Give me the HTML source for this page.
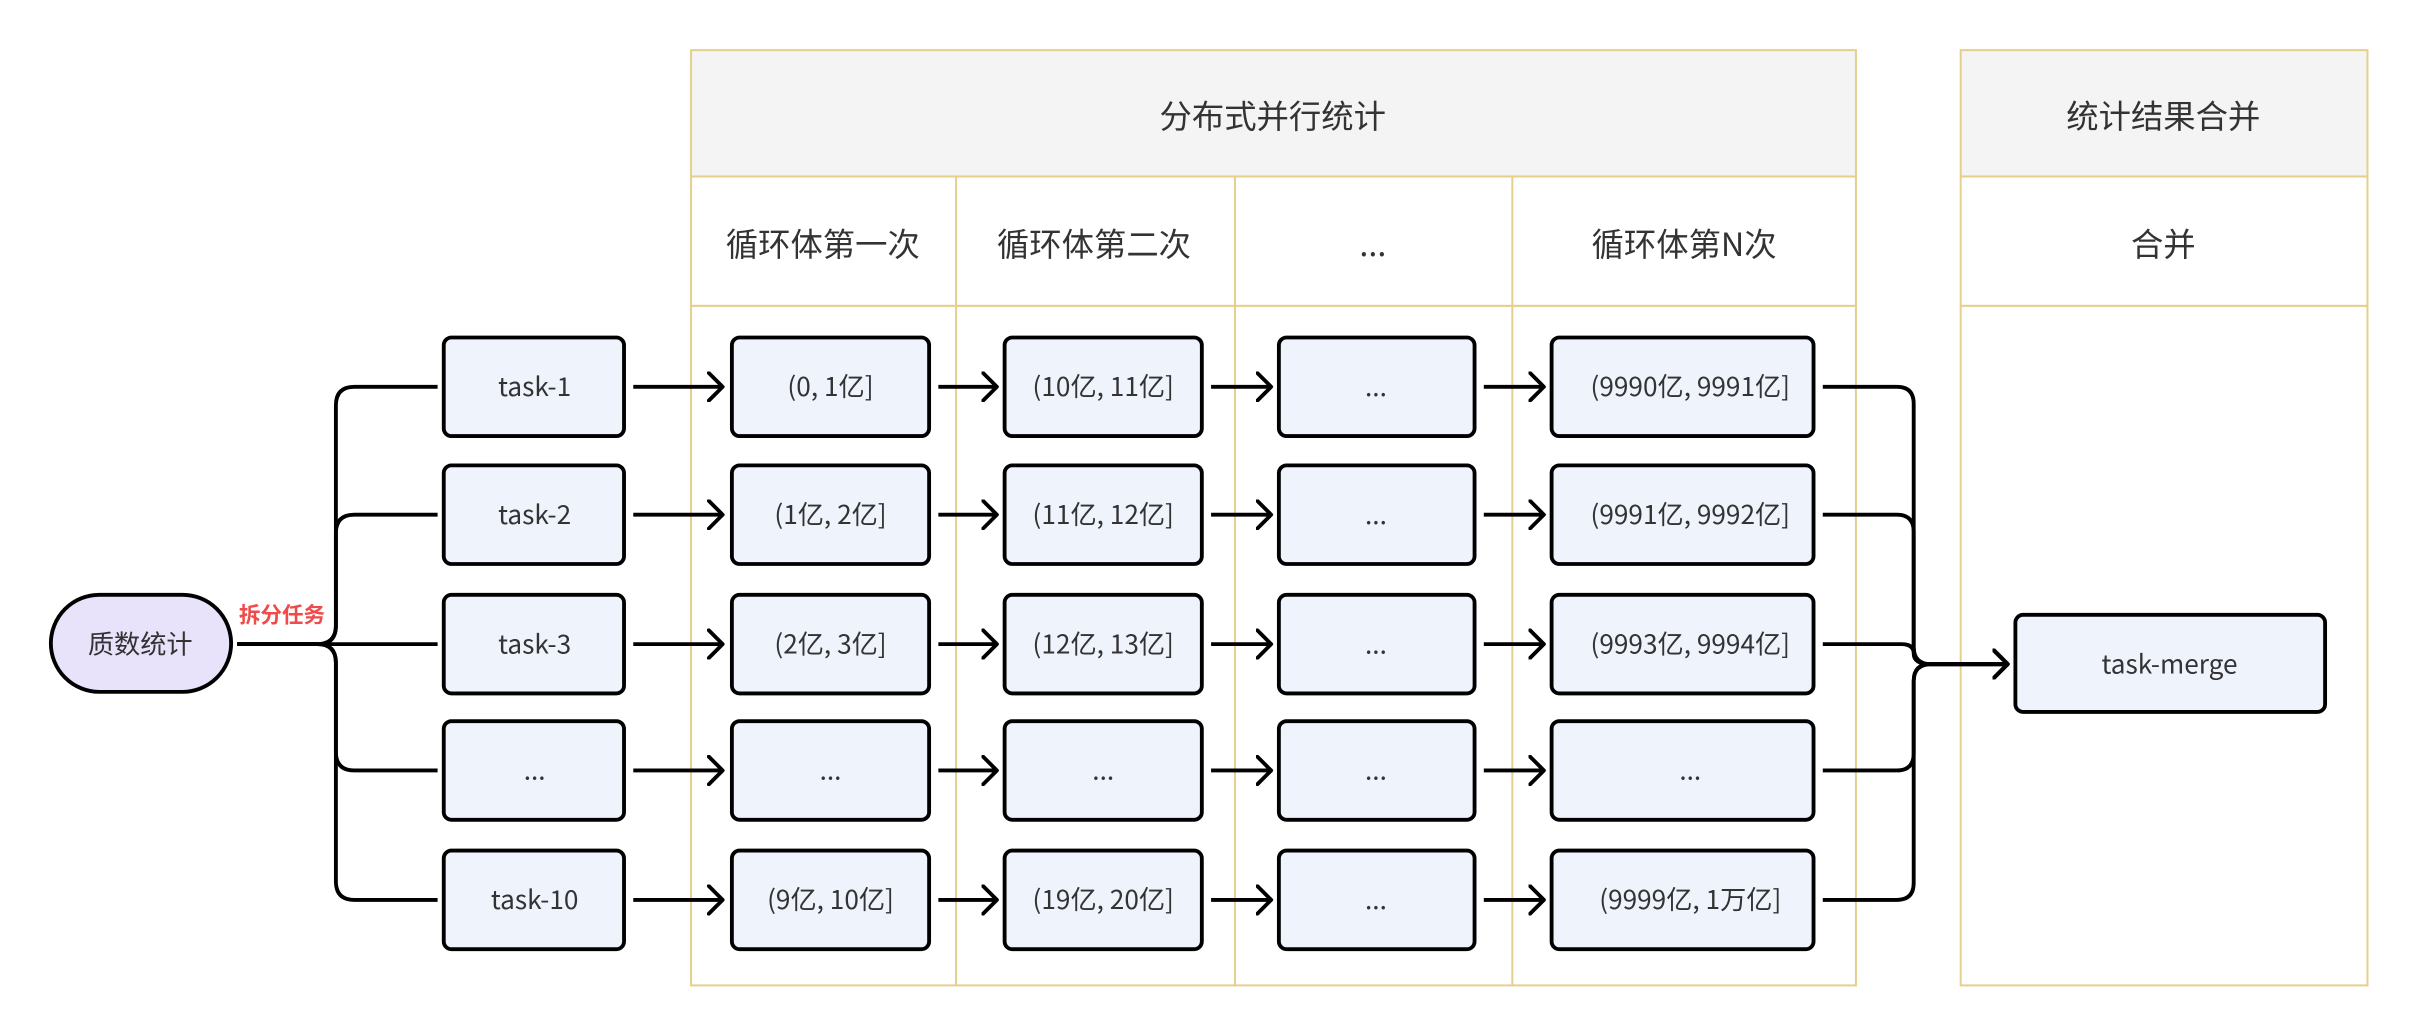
<!DOCTYPE html>
<html><head><meta charset="utf-8"><style>
html,body{margin:0;padding:0;background:#fff;}
svg{display:block;}
text{font-family:"Noto Sans CJK SC","Liberation Sans",sans-serif;fill:#333;}
</style></head><body>
<svg width="2416" height="1034" viewBox="0 0 1568 671" xmlns="http://www.w3.org/2000/svg">
<defs>
<marker id="ah" markerWidth="12" markerHeight="20" refX="10" refY="10" orient="auto" markerUnits="userSpaceOnUse">
<path d="M1,1 L10,10 L1,19" fill="none" stroke="#000" stroke-width="2.5" stroke-linecap="round" stroke-linejoin="round"/>
</marker>
</defs>
<g stroke="#e6cf8c" stroke-width="1.3">
<rect x="448.5" y="32.5" width="756" height="82" fill="#f4f4f4"/>
<rect x="448.5" y="114.5" width="756" height="84" fill="#fff"/>
<rect x="448.5" y="198.5" width="756" height="441" fill="#fff"/>
<line x1="620.5" y1="114.5" x2="620.5" y2="639.5"/>
<line x1="801.5" y1="114.5" x2="801.5" y2="639.5"/>
<line x1="981.5" y1="114.5" x2="981.5" y2="639.5"/>
<rect x="1272.5" y="32.5" width="264" height="82" fill="#f4f4f4"/>
<rect x="1272.5" y="114.5" width="264" height="84" fill="#fff"/>
<rect x="1272.5" y="198.5" width="264" height="441" fill="#fff"/>
</g>
<g font-size="21" text-anchor="middle">
<text x="826" y="83">分布式并行统计</text>
<text x="1404" y="83">统计结果合并</text>
<text x="534" y="166">循环体第一次</text>
<text x="710" y="166">循环体第二次</text>
<text x="891" y="166">...</text>
<text x="1093" y="166">循环体第N次</text>
<text x="1404" y="166">合并</text>
</g>
<rect x="33" y="386" width="117" height="63" rx="31.5" fill="#e9e2fb" stroke="#000" stroke-width="2.5"/>
<text x="91" y="424" font-size="17" text-anchor="middle">质数统计</text>
<text x="183" y="404" font-size="14" font-weight="bold" text-anchor="middle" style="fill:#f04a4a">拆分任务</text>
<g fill="none" stroke="#000" stroke-width="2.5">
<path d="M154,418 H206 Q218,418 218,406 V263 Q218,251 230,251 H284"/>
<path d="M154,418 H206 Q218,418 218,406 V346 Q218,334 230,334 H284"/>
<path d="M154,418 H284"/>
<path d="M154,418 H206 Q218,418 218,430 V488 Q218,500 230,500 H284"/>
<path d="M154,418 H206 Q218,418 218,430 V572 Q218,584 230,584 H284"/>
</g>
<g fill="#eef3fc" stroke="#000" stroke-width="2.5">
<rect x="288" y="219" width="117" height="64" rx="5"/><rect x="288" y="302" width="117" height="64" rx="5"/><rect x="288" y="386" width="117" height="64" rx="5"/><rect x="288" y="468" width="117" height="64" rx="5"/><rect x="288" y="552" width="117" height="64" rx="5"/>
<rect x="475" y="219" width="128" height="64" rx="5"/><rect x="475" y="302" width="128" height="64" rx="5"/><rect x="475" y="386" width="128" height="64" rx="5"/><rect x="475" y="468" width="128" height="64" rx="5"/><rect x="475" y="552" width="128" height="64" rx="5"/>
<rect x="652" y="219" width="128" height="64" rx="5"/><rect x="652" y="302" width="128" height="64" rx="5"/><rect x="652" y="386" width="128" height="64" rx="5"/><rect x="652" y="468" width="128" height="64" rx="5"/><rect x="652" y="552" width="128" height="64" rx="5"/>
<rect x="830" y="219" width="127" height="64" rx="5"/><rect x="830" y="302" width="127" height="64" rx="5"/><rect x="830" y="386" width="127" height="64" rx="5"/><rect x="830" y="468" width="127" height="64" rx="5"/><rect x="830" y="552" width="127" height="64" rx="5"/>
<rect x="1007" y="219" width="170" height="64" rx="5"/><rect x="1007" y="302" width="170" height="64" rx="5"/><rect x="1007" y="386" width="170" height="64" rx="5"/><rect x="1007" y="468" width="170" height="64" rx="5"/><rect x="1007" y="552" width="170" height="64" rx="5"/>
<rect x="1308" y="399" width="201" height="63" rx="5"/>
</g>
<g font-size="17" text-anchor="middle">
<text x="347" y="257">task-1</text><text x="347" y="340">task-2</text><text x="347" y="424">task-3</text><text x="347" y="506">...</text><text x="347" y="590">task-10</text>
<text x="539" y="257">(0, 1亿]</text><text x="539" y="340">(1亿, 2亿]</text><text x="539" y="424">(2亿, 3亿]</text><text x="539" y="506">...</text><text x="539" y="590">(9亿, 10亿]</text>
<text x="716" y="257">(10亿, 11亿]</text><text x="716" y="340">(11亿, 12亿]</text><text x="716" y="424">(12亿, 13亿]</text><text x="716" y="506">...</text><text x="716" y="590">(19亿, 20亿]</text>
<text x="893" y="257">...</text><text x="893" y="340">...</text><text x="893" y="424">...</text><text x="893" y="506">...</text><text x="893" y="590">...</text>
<text x="1097" y="257">(9990亿, 9991亿]</text><text x="1097" y="340">(9991亿, 9992亿]</text><text x="1097" y="424">(9993亿, 9994亿]</text><text x="1097" y="506">...</text><text x="1097" y="590">(9999亿, 1万亿]</text>
<text x="1408" y="437">task-merge</text>
</g>
<g fill="none" stroke="#000" stroke-width="2.5" marker-end="url(#ah)">
<path d="M411,251 H469"/><path d="M411,334 H469"/><path d="M411,418 H469"/><path d="M411,500 H469"/><path d="M411,584 H469"/>
<path d="M609,251 H647"/><path d="M609,334 H647"/><path d="M609,418 H647"/><path d="M609,500 H647"/><path d="M609,584 H647"/>
<path d="M786,251 H825"/><path d="M786,334 H825"/><path d="M786,418 H825"/><path d="M786,500 H825"/><path d="M786,584 H825"/>
<path d="M963,251 H1002"/><path d="M963,334 H1002"/><path d="M963,418 H1002"/><path d="M963,500 H1002"/><path d="M963,584 H1002"/>
<path d="M1183,251 H1231 Q1242,251 1242,262 V420 Q1242,431 1253,431 H1303"/>
<path d="M1183,334 H1231 Q1242,334 1242,345 V420 Q1242,431 1253,431 H1303"/>
<path d="M1183,418 H1234 Q1242,418 1242,424 Q1242,431 1253,431 H1303"/>
<path d="M1183,500 H1231 Q1242,500 1242,489 V442 Q1242,431 1253,431 H1303"/>
<path d="M1183,584 H1231 Q1242,584 1242,573 V442 Q1242,431 1253,431 H1303"/>
</g>
</svg>
</body></html>
